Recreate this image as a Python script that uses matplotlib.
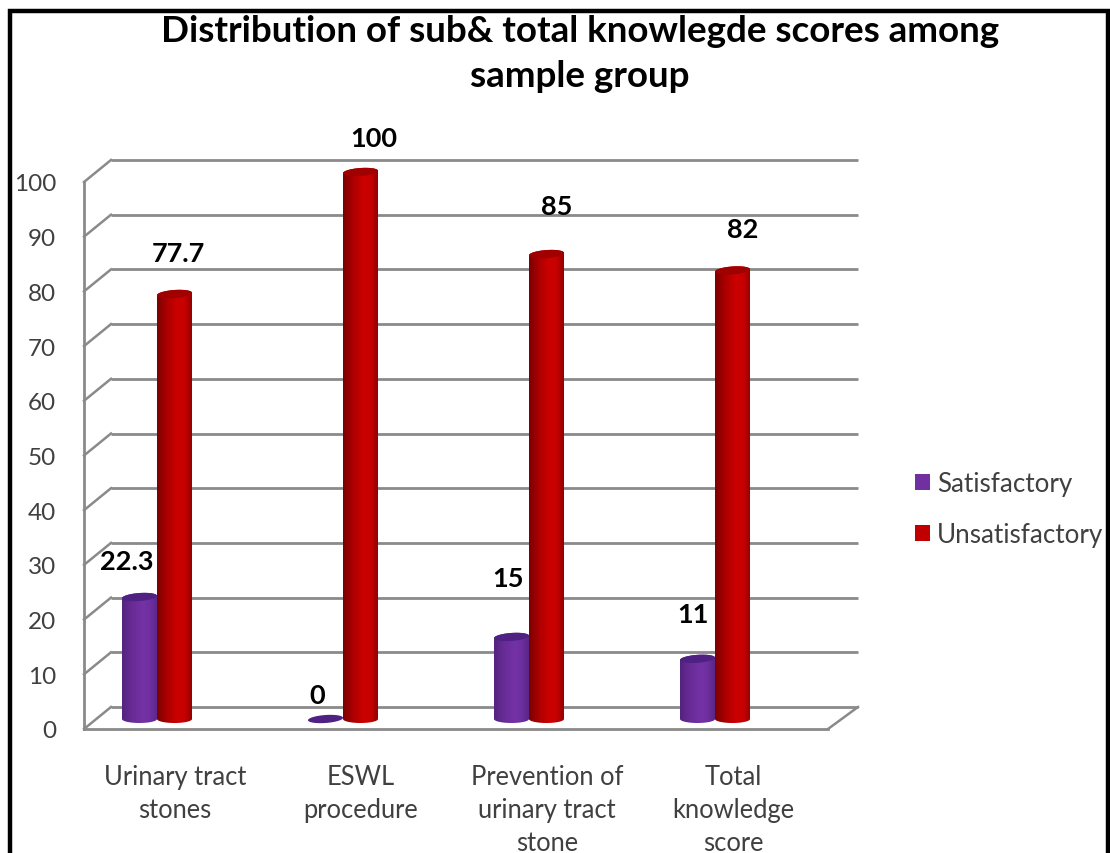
"""Distribution of knowledge scores, cylinder bars on a fake 3D wall."""
import matplotlib

matplotlib.use("Agg")
import matplotlib.pyplot as plt
import numpy as np
from matplotlib.patches import Patch, PathPatch, Polygon, Rectangle
from matplotlib.path import Path

categories = [
    "Urinary tract\nstones",
    "ESWL\nprocedure",
    "Prevention of\nurinary tract\nstone",
    "Total\nknowledge\nscore",
]
satisfactory = [22.3, 0, 15, 11]
unsatisfactory = [77.7, 100, 85, 82]
sat_labels = ["22.3", "0", "15", "11"]
unsat_labels = ["77.7", "100", "85", "82"]
y_ticks = list(range(0, 101, 10))
title = "Distribution of sub& total knowlegde scores among\nsample group"

W, H = 1110, 854
PX_X = 1 / 186  # category units per pixel
PX_Y = 100 / 547  # value units per pixel
GRID = "#8a8a8a"
FONT = "Lato"

purple_ramp = ["#54237f", "#6a2c98", "#7432a6", "#6d2f9e", "#5a2688"]
red_ramp = ["#7c0000", "#ae0000", "#cc0000", "#c60000", "#940000"]


def cylinder(ax, x, value, ramp, top_color):
    half = 17.5 * PX_X
    base = 10 * PX_Y
    b = 4 * PX_Y
    tilt = 1.2 * PX_Y
    t = np.linspace(0, np.pi, 40)
    top = base + value
    if value > 0:
        upper = np.column_stack([x + half * np.cos(t), top + b * np.sin(t) + tilt * np.cos(t)])
        lower = np.column_stack([x - half * np.cos(t), base - b * np.sin(t)])
        outline = np.vstack([upper, lower, upper[:1]])
        grad = np.array([matplotlib.colors.to_rgb(c) for c in ramp])
        xs = np.linspace(0, 1, 64)
        stops = [0, 0.3, 0.6, 0.8, 1]
        img = np.stack([np.interp(xs, stops, grad[:, i]) for i in range(3)], axis=-1)[None, :, :]
        im = ax.imshow(img, extent=(x - half, x + half, base - 2 * b, top + 2 * b),
                       aspect="auto", zorder=3, interpolation="bilinear")
        im.set_clip_path(PathPatch(Path(outline), transform=ax.transData))
        im.set_clip_box(ax.figure.bbox)  # tallest bar pokes out of the axes box
    ring = np.linspace(0, 2 * np.pi, 80)
    cap = np.column_stack([x + half * np.cos(ring), top + b * np.sin(ring) + tilt * np.cos(ring)])
    ax.add_patch(Polygon(cap, closed=True, facecolor=top_color, edgecolor="none", zorder=3.1, clip_on=False))


fig = plt.figure(figsize=(W / 100, H / 100), dpi=100)
ax = fig.add_axes([84 / W, 1 - 730 / H, (828 - 84) / W, 547 / H])

n = len(categories)
xpos = np.arange(n)
ax.set_xlim(-0.5, n - 0.5)
ax.set_ylim(0, 100)

# back wall and side wall
dx_left, dx_right, dy = 27 * PX_X, 30 * PX_X, 22 * PX_Y
for v in y_ticks:
    ax.plot([-0.5 + dx_left, n - 0.5 + dx_right], [v + dy, v + dy], color=GRID, lw=2,
            clip_on=False, zorder=1, solid_capstyle="butt")
    ax.plot([-0.5, -0.5 + dx_left], [v, v + dy], color=GRID, lw=1.8, clip_on=False, zorder=1)
ax.plot([n - 0.5, n - 0.5 + dx_right], [0, dy], color=GRID, lw=1.8, clip_on=False, zorder=1)

offset = -20 * PX_X
shift = 17.5 * PX_X
for i, (s, u) in enumerate(zip(satisfactory, unsatisfactory)):
    cylinder(ax, xpos[i] + offset - shift, s, purple_ramp, "#4f2182")
    cylinder(ax, xpos[i] + offset + shift, u, red_ramp, "#a00000")

ax.set_xlim(-0.5, n - 0.5)
ax.set_ylim(0, 100)

sat_offsets = [(-13, 36), (-8, 24), (-3, 59), (-4, 45)]
unsat_offsets = [(4, 41), (13, 34), (10, 48), (10, 41)]
for i in range(n):
    for vals, labs, offs, sign in ((satisfactory, sat_labels, sat_offsets, -1),
                                   (unsatisfactory, unsat_labels, unsat_offsets, 1)):
        ax.annotate(labs[i], (xpos[i] + offset + sign * shift, vals[i] + 10 * PX_Y),
                    xytext=(offs[i][0] * 0.72, offs[i][1] * 0.72), textcoords="offset points",
                    ha="center", va="center", fontsize=19.5, fontweight="bold",
                    family=FONT, color="black", annotation_clip=False, zorder=5)

for name in ("top", "right"):
    ax.spines[name].set_visible(False)
for name in ("left", "bottom"):
    ax.spines[name].set_color(GRID)
    ax.spines[name].set_linewidth(2)
ax.patch.set_alpha(0)
ax.set_yticks(y_ticks)
ax.set_yticklabels([str(v) for v in y_ticks], fontsize=17.5, family=FONT, color="#404040")
ax.set_xticks(xpos - 2 * PX_X)
ax.set_xticklabels(categories, fontsize=18.4, family=FONT, color="#404040", linespacing=1.38, va="top")
ax.tick_params(axis="y", length=0, pad=20)
ax.tick_params(axis="x", length=0, pad=25.5)

handles = [Patch(facecolor="#7030a0", edgecolor="none"), Patch(facecolor="#c00000", edgecolor="none")]
fig.legend(handles, ["Satisfactory", "Unsatisfactory"], loc="upper left",
           bbox_to_anchor=(915 / W, 1 - 472 / H), frameon=False,
           prop={"family": FONT, "size": 18.7}, labelcolor="#404040", labelspacing=1.0,
           handlelength=0.58, handleheight=0.58, handletextpad=0.28, borderpad=0, borderaxespad=0)

fig.text(580 / W, 1 - 54 / H, title, ha="center", va="center", fontsize=26.5,
         fontweight="bold", family=FONT, color="black", linespacing=1.48)

# black frame of the pasted picture, bottom edge runs off the page
frame = Rectangle((10 / W, -0.05), (1107.5 - 10) / W, 1 - 12 / H + 0.05, transform=fig.transFigure,
                  fill=False, edgecolor="black", linewidth=3.2)
fig.add_artist(frame)

fig.savefig("out.png", dpi=100)
plt.close(fig)
